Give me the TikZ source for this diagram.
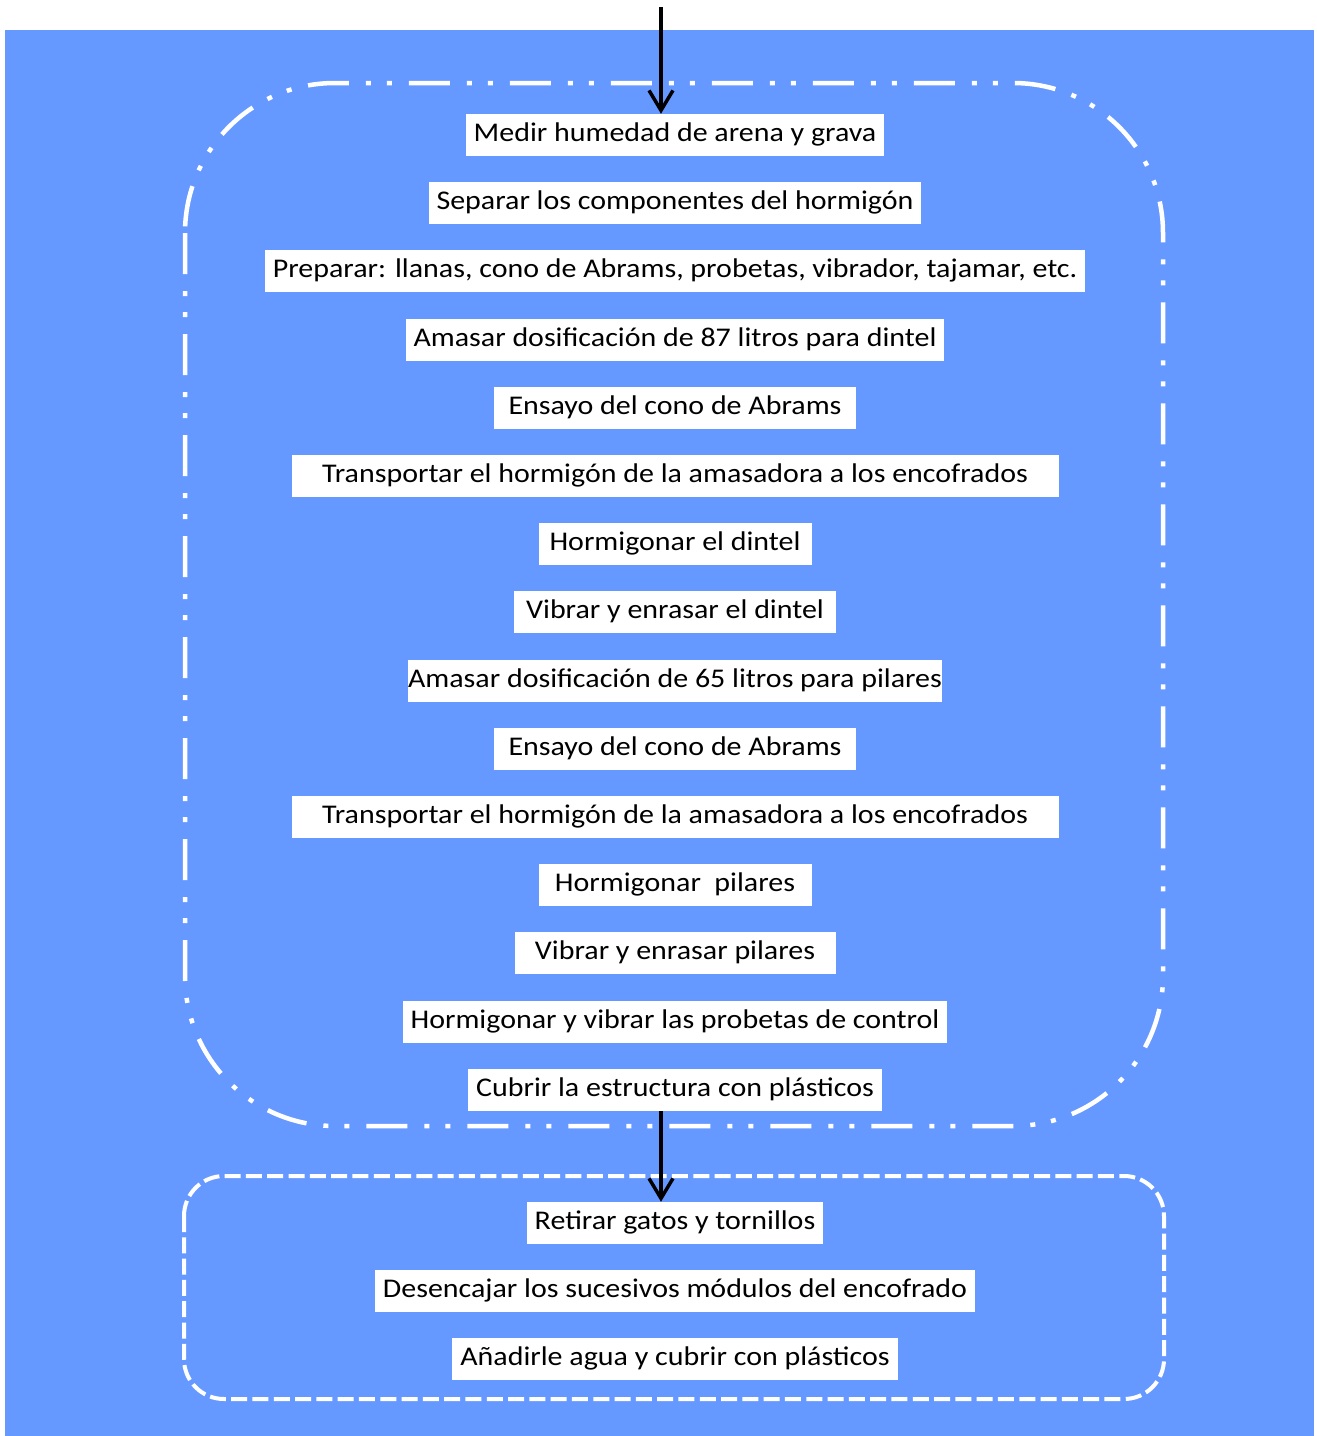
\documentclass[tikz,border=0pt]{standalone}
\usepackage{fontspec}
\setmainfont{Carlito}[FakeStretch=1.11]
\usetikzlibrary{positioning,arrows.meta}
\definecolor{fondo}{HTML}{6699FF}

\begin{document}
\begin{tikzpicture}[x=1pt,y=-1pt,line join=round,
	paso/.style={fill=white,inner xsep=8pt,inner ysep=0pt,minimum height=42pt,text height=21pt,text depth=8pt,font=\fontsize{27}{31}\selectfont},
	flecha/.style={line width=3.5pt,-{Straight Barb[length=20pt,width=24pt]}},
	marco/.style={white,line width=4.5pt,dash pattern=on 41pt off 17pt on 5pt off 16pt on 5pt off 17pt},
	marcob/.style={white,line width=4pt,dash pattern=on 16pt off 5.3pt}]
	\useasboundingbox (0,0) rectangle (1317,1436);
	\fill[fondo] (5,30) rectangle (1314,1436);
	\draw[marco,rounded corners=150pt] (185,83) rectangle (1163,1126);
	\draw[marcob,rounded corners=40pt] (184,1176) rectangle (1164,1399);
	\node[paso] (m1) at (675,135) {Medir humedad de arena y grava};
	\node[paso,below=25.8pt of m1] (m2) {Separar los componentes del hormigón};
	\node[paso,below=25.8pt of m2] (m3) {Preparar: llanas, cono de Abrams, probetas, vibrador, tajamar, etc.};
	\node[paso,below=25.8pt of m3] (m4) {Amasar dosificación de 87 litros para dintel};
	\node[paso,below=25.8pt of m4,minimum width=362pt] (m5) {Ensayo del cono de Abrams};
	\node[paso,below=25.8pt of m5,minimum width=767pt] (m6) {Transportar el hormigón de la amasadora a los encofrados};
	\node[paso,below=25.8pt of m6,minimum width=273pt] (m7) {Hormigonar el dintel};
	\node[paso,below=25.8pt of m7,minimum width=322pt] (m8) {Vibrar y enrasar el dintel};
	\node[paso,below=25.8pt of m8,inner xsep=0pt] (m9) {Amasar dosificación de 65 litros para pilares};
	\node[paso,below=25.8pt of m9,minimum width=362pt] (m10) {Ensayo del cono de Abrams};
	\node[paso,below=25.8pt of m10,minimum width=767pt] (m11) {Transportar el hormigón de la amasadora a los encofrados};
	\node[paso,below=25.8pt of m11,minimum width=273pt] (m12) {Hormigonar\ \ pilares};
	\node[paso,below=25.8pt of m12,minimum width=321pt] (m13) {Vibrar y enrasar pilares};
	\node[paso,below=25.8pt of m13] (m14) {Hormigonar y vibrar las probetas de control};
	\node[paso,below=25.8pt of m14] (m15) {Cubrir la estructura con plásticos};
	\node[paso] (m16) at (675,1223) {Retirar gatos y tornillos};
	\node[paso,below=25.8pt of m16] (m17) {Desencajar los sucesivos módulos del encofrado};
	\node[paso,below=25.8pt of m17] (m18) {Añadirle agua y cubrir con plásticos};
	\coordinate (ini) at (661,7);
	\draw[flecha] (ini) -- (ini |- m1.north);
	\draw[flecha] (m15.south -| ini) -- (m16.north -| ini);
\end{tikzpicture}
\end{document}
